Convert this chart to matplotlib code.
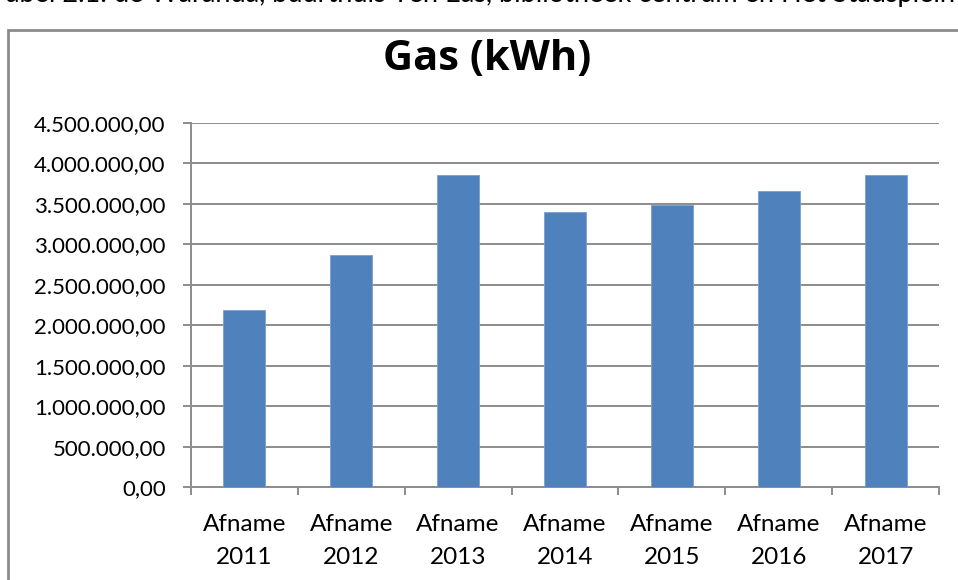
import matplotlib
matplotlib.use("Agg")
import matplotlib.pyplot as plt
from matplotlib.patches import Rectangle
from matplotlib.ticker import FuncFormatter

categories = ["Afname\n2011", "Afname\n2012", "Afname\n2013", "Afname\n2014",
              "Afname\n2015", "Afname\n2016", "Afname\n2017"]
gas_kwh = [2185000, 2864000, 3852000, 3402000, 3481000, 3658000, 3852000]
y_ticks = [0, 500000, 1000000, 1500000, 2000000, 2500000, 3000000, 3500000, 4000000, 4500000]
title = "Gas (kWh)"
caption = "Tabel 2.1: de Waranda, buurthuis Ten Eas, bibliotheek centrum en Het Stadsplein"

FONT = ["Lato", "DejaVu Sans"]
plt.rcParams["font.family"] = FONT

W, H = 958, 580
fig = plt.figure(figsize=(W / 100, H / 100), dpi=100)

# caption line above the chart, cut off by the top edge
fig.text(-0.01, 1 - 2 / H, caption, fontsize=19.5, color="black", va="baseline", ha="left")

# chart frame
fig.patches.append(Rectangle((8 / W, -0.1), 1.2, 1.1 - 30 / H, transform=fig.transFigure,
                             fill=False, edgecolor="#8c8c8c", linewidth=2))

ax = fig.add_axes([190.7 / W, 1 - 487.3 / H, (939.3 - 190.7) / W, (487.3 - 122.8) / H])
x = list(range(len(categories)))
ax.bar(x, gas_kwh, width=0.39, color="#4F81BD", edgecolor="#7a9fd0", linewidth=0.6, zorder=3)

ax.set_xlim(-0.5, len(categories) - 0.5)
ax.set_ylim(0, 4500000)
ax.set_yticks(y_ticks)
fmt = lambda v, p: f"{v:,.2f}".replace(",", "X").replace(".", ",").replace("X", ".")
ax.yaxis.set_major_formatter(FuncFormatter(fmt))
ax.grid(axis="y", color="#8c8c8c", linewidth=1.4, zorder=0)
ax.set_axisbelow(True)

ax.set_xticks(x)
ax.set_xticklabels(categories, fontsize=17.5, linespacing=1.7)
ax.set_xticks([i - 0.5 for i in range(len(categories) + 1)], minor=True)
ax.tick_params(axis="x", which="major", length=0, pad=19)
ax.tick_params(axis="x", which="minor", length=6, color="#8c8c8c", width=1.4)
ax.tick_params(axis="y", length=6, color="#8c8c8c", width=1.4, labelsize=16, pad=12)

for s in ["top", "right"]:
    ax.spines[s].set_visible(False)
for s in ["left", "bottom"]:
    ax.spines[s].set_color("#8c8c8c")
    ax.spines[s].set_linewidth(1.4)

fig.text(487 / W, 1 - 59 / H, title, fontsize=30, fontweight="bold", ha="center", va="center",
         family=["Open Sans", "DejaVu Sans"])

fig.savefig("out.png", dpi=100)
